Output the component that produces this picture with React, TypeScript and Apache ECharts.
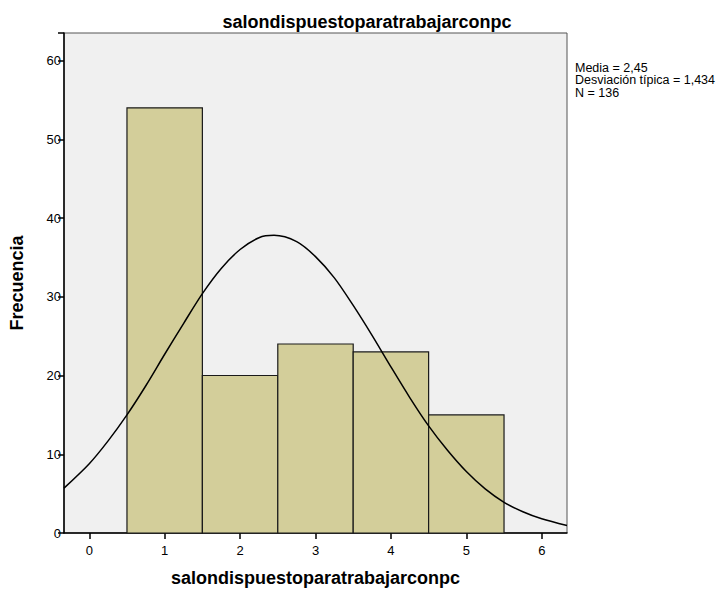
import React, { useEffect, useRef } from "react";
import * as echarts from "echarts";

const binCenters = [1, 2, 3, 4, 5];
const frequencies = [54, 20, 24, 23, 15];
const curveX = [-0.335, 0, 0.25, 0.5, 0.75, 1, 1.25, 1.5, 1.75, 2, 2.25, 2.45, 2.75, 3, 3.25, 3.5, 3.75, 4, 4.25, 4.5, 4.75, 5, 5.25, 5.5, 5.75, 6, 6.335];
const curveY = [5.7, 8.8, 11.7, 15.0, 18.7, 22.7, 26.6, 30.4, 33.6, 36.0, 37.5, 37.8, 37.0, 35.1, 32.4, 28.9, 25.1, 21.1, 17.2, 13.6, 10.5, 7.8, 5.6, 3.9, 2.7, 1.8, 0.95];
const xTicks = [0, 1, 2, 3, 4, 5, 6];
const statsLines = ["Media = 2,45", "Desviación típica = 1,434", "N = 136"];
const titleText = "salondispuestoparatrabajarconpc";
const yName = "Frecuencia";

export default function App() {
  const ref = useRef<HTMLDivElement>(null);
  useEffect(() => {
    if (!ref.current) return;
    const chart = echarts.init(ref.current, undefined, { renderer: "svg" });
    const font = "Arial, 'Liberation Sans', sans-serif";
    chart.setOption({
      animation: false,
      backgroundColor: "#ffffff",
      title: {
        text: titleText,
        left: 362,
        textAlign: "center",
        top: 8,
        textStyle: { fontFamily: font, fontSize: 18, fontWeight: "bold", color: "#000" },
      },
      grid: {
        left: 62,
        top: 33,
        right: 158,
        bottom: 60,
        show: true,
        backgroundColor: "#f0f0f0",
        borderColor: "#555555",
        borderWidth: 1,
      },
      xAxis: {
        type: "value",
        min: -0.335,
        max: 6.335,
        name: titleText,
        nameLocation: "middle",
        nameGap: 36,
        nameTextStyle: { fontFamily: font, fontSize: 18, fontWeight: "bold", color: "#000" },
        splitLine: { show: false },
        axisLine: { show: true, onZero: false, lineStyle: { color: "#000", width: 1.5 } },
        axisTick: { show: true, inside: false, customValues: xTicks, length: 6, lineStyle: { color: "#000", width: 1.5 } },
        axisLabel: { customValues: xTicks, fontFamily: font, fontSize: 13, color: "#000", margin: 11 },
      },
      yAxis: {
        type: "value",
        min: 0,
        max: 63.5,
        interval: 10,
        name: yName,
        nameLocation: "middle",
        nameGap: 38,
        nameTextStyle: { fontFamily: font, fontSize: 18, fontWeight: "bold", color: "#000" },
        splitLine: { show: false },
        axisLine: { show: true, onZero: false, lineStyle: { color: "#000", width: 1.5 } },
        axisTick: { show: true, inside: false, length: 6, lineStyle: { color: "#000", width: 1.5 } },
        axisLabel: {
          fontFamily: font,
          fontSize: 13,
          color: "#000",
          margin: 3,
          formatter: (v: number) => (v % 10 === 0 && v <= 60 ? String(v) : ""),
        },
      },
      graphic: [
        {
          type: "text",
          left: 575,
          top: 61,
          style: {
            text: statsLines.join("\n"),
            fontFamily: font,
            fontSize: 12.5,
            lineHeight: 12.5,
            fill: "#000",
          },
        },
      ],
      series: [
        {
          type: "custom",
          renderItem: (params: any, api: any) => {
            const c = api.value(0);
            const v = api.value(1);
            const p0 = api.coord([c - 0.5, v]);
            const p1 = api.coord([c + 0.5, 0]);
            return {
              type: "rect",
              shape: { x: p0[0], y: p0[1], width: p1[0] - p0[0], height: p1[1] - p0[1] },
              style: { fill: "#d3ce9a", stroke: "#1a1a1a", lineWidth: 1.2 },
            };
          },
          data: binCenters.map((c, i) => [c, frequencies[i]]),
          z: 2,
        },
        {
          type: "line",
          data: curveX.map((x, i) => [x, curveY[i]]),
          smooth: 0.3,
          showSymbol: false,
          clip: true,
          lineStyle: { color: "#000", width: 1.5 },
          z: 3,
        },
      ],
    });
    return () => chart.dispose();
  }, []);
  return <div ref={ref} style={{ position: "fixed", left: 0, top: 0, width: 725, height: 593 }} />;
}
